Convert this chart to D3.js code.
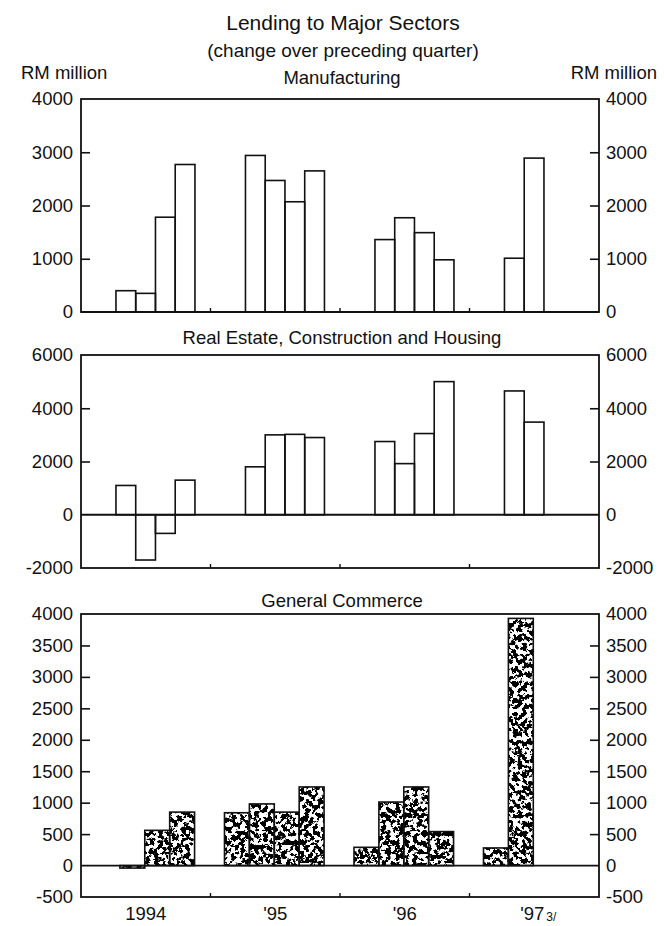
<!DOCTYPE html>
<html>
<head>
<meta charset="utf-8">
<script src="https://cdnjs.cloudflare.com/ajax/libs/d3/7.8.5/d3.min.js"></script>
<style>
  body { margin: 0; background: #fff; }
  svg text { font-family: "Liberation Sans", Arial, sans-serif; fill: #111; }
</style>
</head>
<body>
<div id="chart"></div>
<script>
// Quarterly change in lending, RM million (1994 Q1 - 1997 Q2)
const years = ["1994", "'95", "'96", "'97"];
const quarterYear = [0, 0, 0, 0, 1, 1, 1, 1, 2, 2, 2, 2, 3, 3];
const quarterIndex = [0, 1, 2, 3, 0, 1, 2, 3, 0, 1, 2, 3, 0, 1];

const manufacturing = [400, 350, 1780, 2770, 2940, 2470, 2070, 2650, 1360, 1770, 1490, 980, 1010, 2890];
const realEstate = [1100, -1700, -700, 1300, 1800, 3000, 3020, 2900, 2750, 1920, 3050, 5000, 4650, 3480];
const commerce = [0, -40, 560, 850, 840, 980, 850, 1250, 290, 1010, 1250, 540, 280, 3930];

const ticksManufacturing = [0, 1000, 2000, 3000, 4000];
const ticksRealEstate = [-2000, 0, 2000, 4000, 6000];
const ticksCommerce = [-500, 0, 500, 1000, 1500, 2000, 2500, 3000, 3500, 4000];

const width = 664;
const height = 926;
const left = 81, right = 599;
const labelSize = 18.5;

const svg = d3.select("#chart").append("svg")
    .attr("width", width)
    .attr("height", height);

// speckled texture for the commerce bars
const defs = svg.append("defs");
const filter = defs.append("filter")
    .attr("id", "speckle")
    .attr("filterUnits", "userSpaceOnUse")
    .attr("x", 0).attr("y", 0).attr("width", width).attr("height", height);
filter.append("feTurbulence")
    .attr("type", "fractalNoise")
    .attr("baseFrequency", 0.22)
    .attr("numOctaves", 3)
    .attr("seed", 7)
    .attr("result", "noise");
filter.append("feColorMatrix")
    .attr("in", "noise")
    .attr("type", "matrix")
    .attr("values", "0 0 0 0 0  0 0 0 0 0  0 0 0 0 0  -22 0 0 0 11.6")
    .attr("result", "dots");
filter.append("feComposite")
    .attr("in", "dots")
    .attr("in2", "SourceGraphic")
    .attr("operator", "in");

const xYear = d3.scaleBand().domain(years).range([left, right]);
const fmt = d => String(d);

// titles
svg.append("text")
    .attr("x", 343).attr("y", 22)
    .attr("text-anchor", "middle").attr("dominant-baseline", "central")
    .attr("font-size", 21)
    .text("Lending to Major Sectors");
svg.append("text")
    .attr("x", 343).attr("y", 50)
    .attr("text-anchor", "middle").attr("dominant-baseline", "central")
    .attr("font-size", 19)
    .text("(change over preceding quarter)");
svg.append("text")
    .attr("x", 21).attr("y", 72)
    .attr("dominant-baseline", "central")
    .attr("font-size", labelSize)
    .text("RM million");
svg.append("text")
    .attr("x", 657).attr("y", 72)
    .attr("text-anchor", "end").attr("dominant-baseline", "central")
    .attr("font-size", labelSize)
    .text("RM million");

function drawPanel(opts) {
    const g = svg.append("g");
    const y = d3.scaleLinear().domain(opts.domain).range([opts.bottom, opts.top]);
    const xq = d3.scaleBand()
        .domain([0, 1, 2, 3])
        .range([xYear.bandwidth() * opts.inner[0], xYear.bandwidth() * opts.inner[1]]);

    // panel title
    g.append("text")
        .attr("x", 342).attr("y", opts.titleY)
        .attr("text-anchor", "middle").attr("dominant-baseline", "central")
        .attr("font-size", labelSize)
        .text(opts.title);

    // bars
    const bars = opts.values.map((v, i) => ({
        v,
        x: xYear(years[quarterYear[i]]) + xq(quarterIndex[i])
    }));

    if (opts.speckle) {
        g.append("g")
            .attr("filter", "url(#speckle)")
            .selectAll("rect")
            .data(bars)
            .join("rect")
            .attr("x", d => d.x)
            .attr("width", xq.bandwidth())
            .attr("y", d => y(Math.max(0, d.v)))
            .attr("height", d => Math.abs(y(d.v) - y(0)))
            .attr("fill", "#fff");
    }

    g.append("g")
        .selectAll("rect")
        .data(bars)
        .join("rect")
        .attr("x", d => d.x)
        .attr("width", xq.bandwidth())
        .attr("y", d => y(Math.max(0, d.v)))
        .attr("height", d => Math.abs(y(d.v) - y(0)))
        .attr("fill", "none")
        .attr("stroke", "#111")
        .attr("stroke-width", 1.6);

    // zero line
    g.append("line")
        .attr("x1", left).attr("x2", right)
        .attr("y1", y(0)).attr("y2", y(0))
        .attr("stroke", "#111").attr("stroke-width", 1.8);

    // frame
    g.append("rect")
        .attr("x", left).attr("y", opts.top)
        .attr("width", right - left).attr("height", opts.bottom - opts.top)
        .attr("fill", "none").attr("stroke", "#111").attr("stroke-width", 1.8);

    // inward tick marks on both sides
    const inner = opts.ticks.filter(t => t !== opts.domain[0] && t !== opts.domain[1] && t !== 0);
    g.append("g")
        .attr("transform", `translate(${left},0)`)
        .call(d3.axisRight(y).tickValues(inner).tickSize(9).tickFormat(""))
        .call(a => a.select(".domain").remove())
        .selectAll("line").attr("stroke", "#111").attr("stroke-width", 1.6);
    g.append("g")
        .attr("transform", `translate(${right},0)`)
        .call(d3.axisLeft(y).tickValues(inner).tickSize(9).tickFormat(""))
        .call(a => a.select(".domain").remove())
        .selectAll("line").attr("stroke", "#111").attr("stroke-width", 1.6);

    // tick labels
    const la = g.append("g")
        .attr("transform", `translate(${left},0)`)
        .call(d3.axisLeft(y).tickValues(opts.ticks).tickSize(0).tickPadding(8).tickFormat(fmt));
    la.select(".domain").remove();
    la.selectAll("text").attr("font-size", labelSize).attr("font-family", null).attr("fill", "#111");
    const ra = g.append("g")
        .attr("transform", `translate(${right},0)`)
        .call(d3.axisRight(y).tickValues(opts.ticks).tickSize(0).tickPadding(7).tickFormat(fmt));
    ra.select(".domain").remove();
    ra.selectAll("text").attr("font-size", labelSize).attr("font-family", null).attr("fill", "#111");

    // year boundary marks on the bottom edge
    g.selectAll(".yr")
        .data(years.slice(1))
        .join("line")
        .attr("x1", d => xYear(d)).attr("x2", d => xYear(d))
        .attr("y1", opts.bottom).attr("y2", opts.bottom - 4)
        .attr("stroke", "#111").attr("stroke-width", 1.4);

    return y;
}

drawPanel({
    title: "Manufacturing", titleY: 77,
    values: manufacturing, domain: [0, 4000], ticks: ticksManufacturing,
    top: 99, bottom: 312, inner: [0.27, 0.88]
});
drawPanel({
    title: "Real Estate, Construction and Housing", titleY: 337,
    values: realEstate, domain: [-2000, 6000], ticks: ticksRealEstate,
    top: 355, bottom: 568, inner: [0.27, 0.88]
});
drawPanel({
    title: "General Commerce", titleY: 600,
    values: commerce, domain: [-500, 4000], ticks: ticksCommerce,
    top: 614, bottom: 897, inner: [0.108, 0.877], speckle: true
});

// year labels
const xl = svg.append("g").selectAll("text")
    .data(years)
    .join("text")
    .attr("x", d => xYear(d) + xYear.bandwidth() / 2 + (d === "'97" ? 4 : 0))
    .attr("y", 913)
    .attr("text-anchor", "middle").attr("dominant-baseline", "central")
    .attr("font-size", labelSize)
    .text(d => d);
xl.filter(d => d === "'97")
    .append("tspan")
    .attr("font-size", 12)
    .attr("dy", 4)
    .attr("dx", 2)
    .text("3/");
</script>
</body>
</html>
